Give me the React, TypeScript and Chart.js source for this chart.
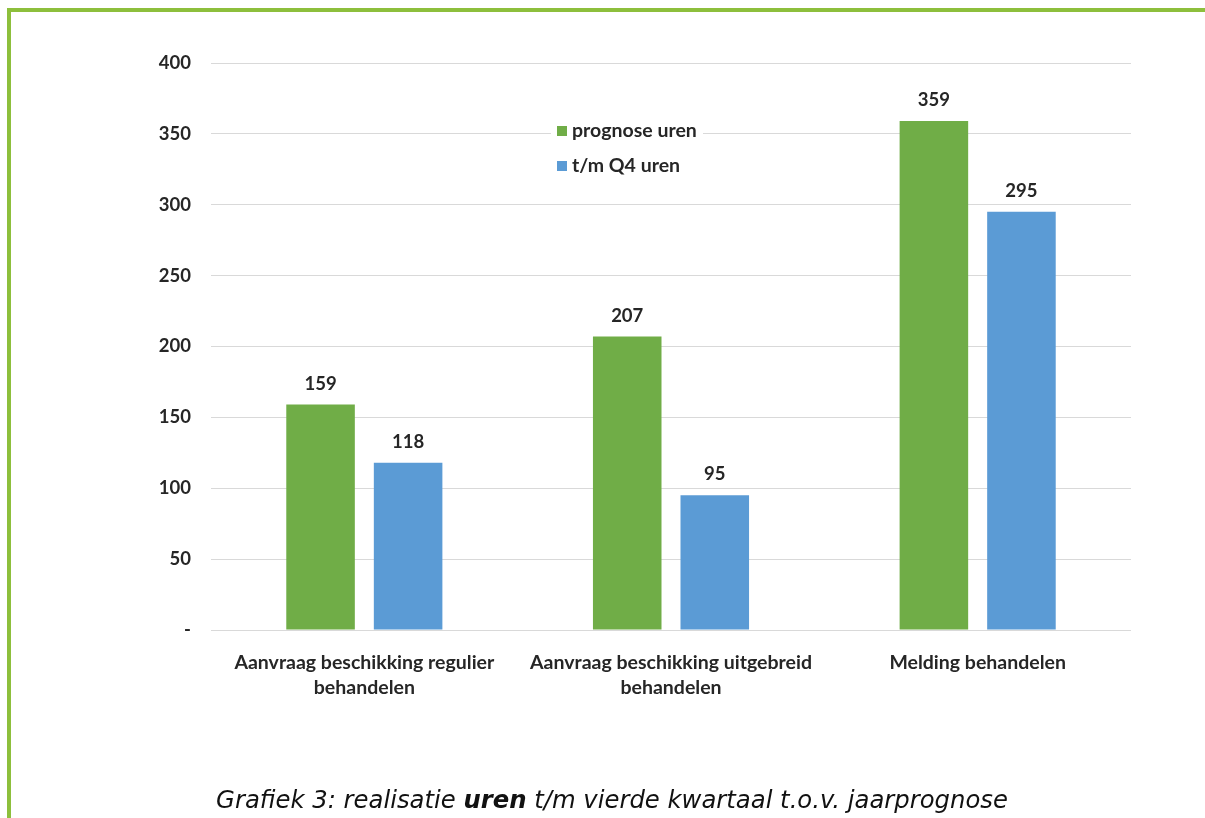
import React, { useEffect, useRef } from "react";
import { Chart, registerables } from "chart.js";

Chart.register(...registerables);

const categories: (string | string[])[] = [
  ["Aanvraag beschikking regulier", "behandelen"],
  ["Aanvraag beschikking uitgebreid", "behandelen"],
  "Melding behandelen",
];
const prognoseUren = [159, 207, 359];
const tmQ4Uren = [118, 95, 295];
const seriesNames = ["prognose uren", "t/m Q4 uren"];
const seriesColors = ["#70AD47", "#5B9BD5"];
const yMin = 0;
const yMax = 400;
const yStep = 50;

const FONT = "Lato";
const TEXT_COLOR = "#262626";

const dataLabelPlugin = {
  id: "dataLabels",
  afterDatasetsDraw(chart: any) {
    const ctx = chart.ctx;
    ctx.save();
    ctx.font = `bold 18.5px ${FONT}`;
    ctx.fillStyle = TEXT_COLOR;
    ctx.textAlign = "center";
    ctx.textBaseline = "middle";
    chart.data.datasets.forEach((ds: any, i: number) => {
      const meta = chart.getDatasetMeta(i);
      meta.data.forEach((el: any, j: number) => {
        ctx.fillText(String(ds.data[j]), el.x, el.y - 21);
      });
    });
    ctx.restore();
  },
};

const legendPlugin = {
  id: "insideLegend",
  afterDatasetsDraw(chart: any) {
    const ctx = chart.ctx;
    ctx.save();
    ctx.fillStyle = "#ffffff";
    ctx.fillRect(540, 104, 152, 64);
    ctx.font = `bold 19.5px ${FONT}`;
    ctx.textBaseline = "middle";
    ctx.textAlign = "left";
    const rows = [119, 154];
    chart.data.datasets.forEach((ds: any, i: number) => {
      ctx.fillStyle = ds.backgroundColor;
      ctx.fillRect(546, rows[i] - 5, 10, 10);
      ctx.fillStyle = TEXT_COLOR;
      ctx.fillText(ds.label, 561, rows[i]);
    });
    ctx.restore();
  },
};

export default function App() {
  const canvasRef = useRef<HTMLCanvasElement | null>(null);

  useEffect(() => {
    const canvas = canvasRef.current;
    if (!canvas) return;
    const chart = new Chart(canvas, {
      type: "bar",
      data: {
        labels: categories as any,
        datasets: [
          {
            label: seriesNames[0],
            data: prognoseUren,
            backgroundColor: seriesColors[0],
            barPercentage: 0.783,
            categoryPercentage: 0.571,
          },
          {
            label: seriesNames[1],
            data: tmQ4Uren,
            backgroundColor: seriesColors[1],
            barPercentage: 0.783,
            categoryPercentage: 0.571,
          },
        ],
      },
      options: {
        animation: false,
        responsive: false,
        devicePixelRatio: 1,
        layout: { padding: { top: 51, right: 73, left: 0, bottom: 0 } },
        plugins: {
          legend: { display: false },
          tooltip: { enabled: false },
        },
        scales: {
          x: {
            grid: { display: false, drawTicks: false },
            border: { display: false },
            ticks: {
              font: { family: FONT, size: 19.5, weight: "bold", lineHeight: 1.24 },
              color: TEXT_COLOR,
              padding: 21,
              maxRotation: 0,
              autoSkip: false,
            },
            afterFit: (s: any) => {
              s.height = 100;
            },
          },
          y: {
            min: yMin,
            max: yMax,
            grid: { color: "#D9D9D9", drawTicks: false, lineWidth: 1 },
            border: { display: false },
            ticks: {
              stepSize: yStep,
              font: { family: FONT, size: 18.5, weight: "bold" },
              color: TEXT_COLOR,
              padding: 20,
              callback: (v: any) => (Number(v) === 0 ? "-" : String(v)),
            },
            afterFit: (s: any) => {
              s.width = 200;
            },
          },
        },
      },
      plugins: [dataLabelPlugin, legendPlugin],
    });
    return () => chart.destroy();
  }, []);

  const green = "#8DBF3C";
  return (
    <>
      <style>{"html,body{overflow:hidden;}"}</style>
      <div
        style={{
          position: "fixed",
          left: 7,
          top: 8,
          right: 0,
          bottom: 0,
          borderTop: `4px solid ${green}`,
          borderLeft: `4px solid ${green}`,
          background: "#fff",
        }}
      >
        <canvas
          ref={canvasRef}
          width={1193}
          height={718}
          style={{ position: "absolute", left: 0, top: 0, width: 1193, height: 718 }}
        />
        <div
          style={{
            position: "absolute",
            left: 0,
            top: 774,
            width: 1202,
            textAlign: "center",
            fontFamily: "'DejaVu Sans', Verdana, sans-serif",
            fontStyle: "italic",
            fontSize: 24.3,
            color: "#111",
            lineHeight: "28px",
            whiteSpace: "nowrap",
          }}
        >
          Grafiek 3: realisatie <b>uren</b> t/m vierde kwartaal t.o.v. jaarprognose
        </div>
      </div>
    </>
  );
}
